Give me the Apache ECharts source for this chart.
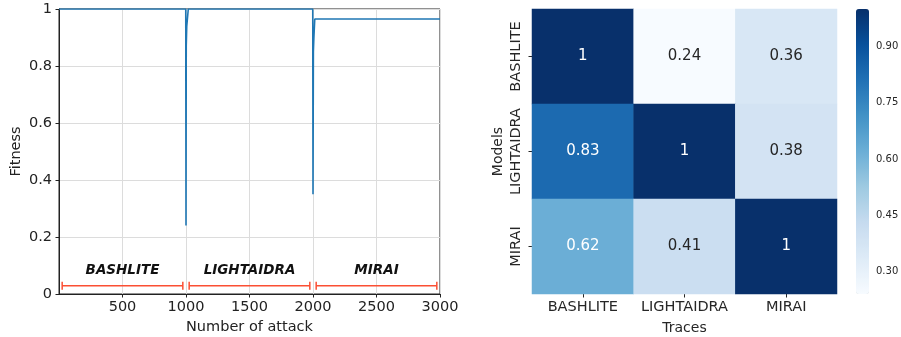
<!DOCTYPE html>
<html>
<head>
<meta charset="utf-8">
<script src="https://cdn.jsdelivr.net/npm/echarts@6/dist/echarts.min.js"></script>
<style>
  html, body { margin: 0; padding: 0; background: #fff; }
  #chart { width: 901px; height: 337px; }
</style>
</head>
<body>
<div id="chart"></div>
<script>
// fitness curve (sparse points)
var attackX = [1, 998, 1000, 1002, 1006, 1016, 1018, 1998, 2000, 2003, 2007, 2012, 2014,
  2060, 2062, 2064, 2110, 2112, 2114, 2180, 2182, 2184, 2250, 2252, 2254, 2300, 2302, 2304,
  2360, 2362, 2364, 2420, 2422, 2424, 2900, 2902, 2904, 3000];
var fitness = [1, 1, 0.24, 0.87, 0.94, 0.94, 1, 1, 0.35, 0.85, 0.90, 0.90, 0.965,
  0.965, 0.96, 0.965, 0.965, 0.96, 0.965, 0.965, 0.96, 0.965, 0.965, 0.96, 0.965, 0.965, 0.96, 0.965,
  0.965, 0.96, 0.965, 0.965, 0.96, 0.965, 0.965, 0.96, 0.965, 0.965];

// attack phases
var phaseNames = ['BASHLITE', 'LIGHTAIDRA', 'MIRAI'];
var phaseStart = [25, 1025, 2025];
var phaseEnd = [975, 1975, 2975];

// similarity heatmap (rows = models, cols = traces)
var traces = ['BASHLITE', 'LIGHTAIDRA', 'MIRAI'];
var models = ['BASHLITE', 'LIGHTAIDRA', 'MIRAI'];
var similarity = [
  [1, 0.24, 0.36],
  [0.83, 1, 0.38],
  [0.62, 0.41, 1]
];
var colorbarTicks = [0.30, 0.45, 0.60, 0.75, 0.90];

var FONT = 'DejaVu Sans';
var blues = ['#f7fbff', '#deebf7', '#c6dbef', '#9ecae1', '#6baed6', '#4292c6', '#2171b5', '#08519c', '#08306b'];

var lineData = attackX.map(function (x, i) { return [x, fitness[i]]; });
var phaseData = phaseNames.map(function (n, i) { return [phaseStart[i], phaseEnd[i], n]; });

var heatData = [];
similarity.forEach(function (row, r) {
  row.forEach(function (v, c) {
    heatData.push({
      value: [c, r, v],
      label: { color: v > 0.55 ? '#ffffff' : '#262626' }
    });
  });
});

var myChart = echarts.init(document.getElementById('chart'));

var option = {
  animation: false,
  textStyle: { fontFamily: FONT },
  grid: [
    { left: 59, top: 9, width: 381, height: 285, outerBoundsMode: 'none', containLabel: false,
      show: true, borderColor: '#222', borderWidth: 1, backgroundColor: 'transparent' },
    { left: 532, top: 9, width: 305, height: 285, outerBoundsMode: 'none', containLabel: false },
    { left: 856, top: 9, width: 13, height: 285, outerBoundsMode: 'none', containLabel: false }
  ],
  xAxis: [
    {
      gridIndex: 0, type: 'value', min: 0, max: 3000, interval: 500,
      name: 'Number of attack', nameLocation: 'middle', nameGap: 26,
      nameTextStyle: { fontSize: 14.5, color: '#222', fontFamily: FONT },
      axisLine: { lineStyle: { color: '#222' } },
      axisTick: { show: true, length: 3.5, lineStyle: { color: '#222' } },
      axisLabel: {
        fontSize: 14.5, color: '#222', margin: 6, showMinLabel: false, fontFamily: FONT,
        formatter: function (v) { return String(v); }
      },
      splitLine: { show: true, lineStyle: { color: '#dcdcdc' } }
    },
    {
      gridIndex: 1, type: 'category', data: traces,
      name: 'Traces', nameLocation: 'middle', nameGap: 27,
      nameTextStyle: { fontSize: 14, color: '#262626', fontFamily: FONT },
      axisLine: { show: false },
      axisTick: { show: true, alignWithLabel: true, length: 3.5, lineStyle: { color: '#262626' } },
      axisLabel: { fontSize: 14.5, color: '#262626', margin: 6, interval: 0, fontFamily: FONT },
      splitLine: { show: false }
    },
    { gridIndex: 2, type: 'value', show: false, min: 0, max: 1 }
  ],
  yAxis: [
    {
      gridIndex: 0, type: 'value', min: 0, max: 1, interval: 0.2,
      name: 'Fitness', nameLocation: 'middle', nameGap: 35,
      nameTextStyle: { fontSize: 14.5, color: '#222', fontFamily: FONT },
      axisLine: { show: true, lineStyle: { color: '#222' } },
      axisTick: { show: true, length: 3.5, lineStyle: { color: '#222' } },
      axisLabel: { fontSize: 14.5, color: '#222', margin: 7, fontFamily: FONT },
      splitLine: { show: true, lineStyle: { color: '#dcdcdc' } }
    },
    {
      gridIndex: 1, type: 'category', data: models, inverse: true,
      name: 'Models', nameLocation: 'middle', nameGap: 27,
      nameTextStyle: { fontSize: 14, color: '#262626', fontFamily: FONT },
      axisLine: { show: false },
      axisTick: { show: true, alignWithLabel: true, length: 3.5, lineStyle: { color: '#262626' } },
      axisLabel: { fontSize: 14.5, color: '#262626', rotate: 90, margin: 8, interval: 0, fontFamily: FONT },
      splitLine: { show: false }
    },
    {
      gridIndex: 2, type: 'value', min: 0.24, max: 1, position: 'right',
      axisLine: { show: false },
      axisTick: { show: true, length: 3.5, customValues: colorbarTicks, lineStyle: { color: '#262626' } },
      axisLabel: {
        fontSize: 10, color: '#262626', margin: 7, customValues: colorbarTicks, fontFamily: FONT,
        formatter: function (v) { return v.toFixed(2); }
      },
      splitLine: { show: false }
    }
  ],
  visualMap: {
    type: 'continuous', seriesIndex: 2, min: 0.24, max: 1,
    calculable: false, show: true, orient: 'vertical',
    left: 856, top: 9, itemWidth: 13, itemHeight: 285, padding: 0,
    text: null, showLabel: false,
    inRange: { color: blues }
  },
  series: [
    {
      type: 'line', xAxisIndex: 0, yAxisIndex: 0, data: lineData,
      showSymbol: false, lineStyle: { color: '#1f77b4', width: 1.6 }, z: 3
    },
    {
      type: 'custom', xAxisIndex: 0, yAxisIndex: 0, data: phaseData,
      renderItem: function (params, api) {
        var a = api.coord([api.value(0), 0.029]);
        var b = api.coord([api.value(1), 0.029]);
        var t = api.coord([(api.value(0) + api.value(1)) / 2, 0.082]);
        var red = '#fb4f33';
        return {
          type: 'group',
          children: [
            { type: 'line', shape: { x1: a[0], y1: a[1], x2: b[0], y2: b[1] }, style: { stroke: red, lineWidth: 1.5 } },
            { type: 'line', shape: { x1: a[0], y1: a[1] - 4, x2: a[0], y2: a[1] + 4 }, style: { stroke: red, lineWidth: 1.5 } },
            { type: 'line', shape: { x1: b[0], y1: b[1] - 4, x2: b[0], y2: b[1] + 4 }, style: { stroke: red, lineWidth: 1.5 } },
            {
              type: 'text', x: t[0], y: t[1],
              style: {
                text: api.value(2), align: 'center', verticalAlign: 'middle',
                font: 'italic bold 13.5px "DejaVu Sans"', fill: '#111'
              }
            }
          ]
        };
      }
    },
    {
      type: 'heatmap', xAxisIndex: 1, yAxisIndex: 1, data: heatData,
      label: {
        show: true, fontSize: 15, fontFamily: FONT,
        formatter: function (p) { return String(p.value[2]); }
      },
      itemStyle: { borderWidth: 0 },
      emphasis: { disabled: true }
    }
  ]
};

myChart.setOption(option);
</script>
</body>
</html>
